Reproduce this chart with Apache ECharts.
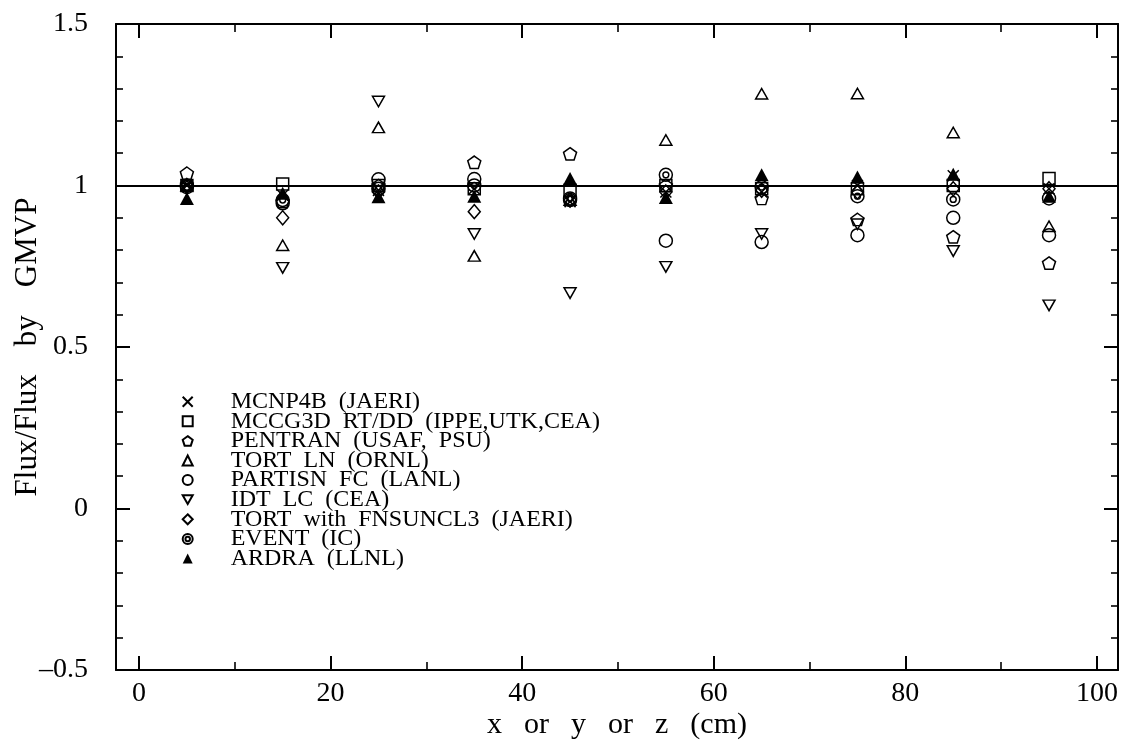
<!DOCTYPE html>
<html><head><meta charset="utf-8">
<script src="https://cdn.jsdelivr.net/npm/echarts@6/dist/echarts.min.js"></script>
<style>html,body{margin:0;padding:0;background:#fff}#c{width:1122px;height:742px}</style>
</head><body><div id="c"></div>
<script>
// ---------- data ----------
const positions = [5, 15, 25, 35, 45, 55, 65, 75, 85, 95];
const seriesNames = [
  'MCNP4B (JAERI)',
  'MCCG3D RT/DD (IPPE,UTK,CEA)',
  'PENTRAN (USAF, PSU)',
  'TORT LN (ORNL)',
  'PARTISN FC (LANL)',
  'IDT LC (CEA)',
  'TORT with FNSUNCL3 (JAERI)',
  'EVENT (IC)',
  'ARDRA (LLNL)'
];
const mcnp4b   = [1.000, 0.970, 0.985, 0.990, 0.950, 0.980, 0.980, 1.000, 1.030, 0.990];
const mccg3d   = [1.000, 1.005, 1.000, 0.990, 0.985, 1.000, 0.990, 0.990, 1.000, 1.022];
const pentran  = [1.038, 0.950, 1.000, 1.072, 1.098, 1.000, 0.960, 0.895, 0.841, 0.760];
const tortLN   = [1.000, 0.815, 1.180, 0.782, 0.955, 1.141, 1.284, 1.285, 1.164, 0.874];
const partisn  = [1.000, 0.945, 1.019, 1.020, 0.955, 0.829, 0.825, 0.846, 0.900, 0.846];
const idtLC    = [0.990, 0.745, 1.260, 0.850, 0.667, 0.748, 0.850, 0.880, 0.797, 0.629];
const tortFNS  = [1.000, 0.900, 0.980, 0.919, 0.955, 0.980, 0.985, 0.980, 0.990, 0.990];
const eventIC  = [0.995, 0.955, 0.990, 1.000, 0.960, 1.033, 0.995, 0.967, 0.957, 0.960];
const ardra    = [0.960, 0.976, 0.965, 0.967, 1.022, 0.963, 1.033, 1.026, 1.035, 0.967];
const seriesValues = [mcnp4b, mccg3d, pentran, tortLN, partisn, idtLC, tortFNS, eventIC, ardra];
const xMajorTicks = [0, 20, 40, 60, 80, 100];
const xMinorTicks = [10, 30, 50, 70, 90];
const referenceValue = 1;
const xTitle = 'x or y or z (cm)';
const yTitle = 'Flux/Flux by GMVP';

// ---------- styles ----------
const FONT = 'Liberation Serif';
const BLACK = '#000';
const HOLLOW = 'rgba(255,255,255,0)';
const markerStyles = [
  { symbol: 'path://M0,0L1,1M1,0L0,1', size: [11, 11], fill: HOLLOW },
  { symbol: 'rect', size: [12, 12], fill: HOLLOW },
  { symbol: 'path://M1,0L1.951,0.691L1.588,1.809L0.412,1.809L0.049,0.691Z', size: [13, 12.4], fill: HOLLOW },
  { symbol: 'triangle', size: [12, 10.5], fill: HOLLOW },
  { symbol: 'circle', size: [13, 13], fill: HOLLOW },
  { symbol: 'path://M0,0L2,0L1,1.732Z', size: [12, 10.5], fill: HOLLOW },
  { symbol: 'diamond', size: [12, 14], fill: HOLLOW },
  { symbol: 'path://M0,10A10,10 0 1,0 20,10A10,10 0 1,0 0,10ZM5.5,10A4.5,4.5 0 1,0 14.5,10A4.5,4.5 0 1,0 5.5,10Z', size: [13, 13], fill: HOLLOW },
  { symbol: 'triangle', size: [14, 13], fill: BLACK }
];
const legendFontSize = 24;
const legendPitch = 19.6;

// spaced-out title text built from rich tokens (word + fixed-width gap)
function spacedRich(text, gapW, fontSize) {
  return {
    str: text.split(' ').map(w => '{t|' + w + '}').join('{g| }'),
    rich: {
      t: { fontFamily: FONT, fontSize, color: BLACK },
      g: { fontFamily: FONT, fontSize, color: BLACK, width: gapW }
    }
  };
}
const xName = spacedRich(xTitle, 22, 30);
const yName = spacedRich(yTitle, 28, 31);

const chart = echarts.init(document.getElementById('c'), null, { renderer: 'canvas' });
const X_MIN = -2.4, X_MAX = 102.2;
const tickFont = { fontFamily: FONT, fontSize: 28, color: BLACK };

function xAxisDef(position, major) {
  const labelled = major && position === 'bottom';
  return {
    type: 'value', position, min: X_MIN, max: X_MAX,
    axisLine: { show: major, onZero: false, lineStyle: { color: BLACK, width: 2 } },
    axisTick: { show: true, inside: true, length: major ? 14 : 8,
      lineStyle: { color: BLACK, width: major ? 2 : 1.6 },
      customValues: major ? xMajorTicks : xMinorTicks },
    axisLabel: labelled
      ? Object.assign({ show: true, customValues: xMajorTicks, margin: 10 }, tickFont)
      : { show: false },
    splitLine: { show: false },
    name: labelled ? xName.str : '',
    nameLocation: 'middle', nameGap: 40, nameMoveOverlap: false,
    nameTextStyle: { fontFamily: FONT, fontSize: 30, color: BLACK, rich: xName.rich }
  };
}
function yAxisDef(position) {
  const left = position === 'left';
  return {
    type: 'value', position, min: -0.5, max: 1.5, interval: 0.5,
    axisLine: { show: true, onZero: false, lineStyle: { color: BLACK, width: 2 } },
    axisTick: { show: true, inside: true, length: 14, lineStyle: { color: BLACK, width: 2 } },
    minorTick: { show: true, splitNumber: 5, length: 7, lineStyle: { color: BLACK, width: 1.6 } },
    axisLabel: left ? Object.assign({
      show: true, margin: 28,
      formatter: v => (v < 0 ? '\u2013' + Math.abs(v) : String(v))
    }, tickFont) : { show: false },
    splitLine: { show: false }, minorSplitLine: { show: false },
    name: left ? yName.str : '',
    nameLocation: 'middle', nameGap: 73, nameMoveOverlap: false,
    nameTextStyle: { fontFamily: FONT, fontSize: 31, color: BLACK, rich: yName.rich }
  };
}

const series = seriesNames.map((name, k) => {
  const m = markerStyles[k];
  const s = {
    name, type: 'scatter', xAxisIndex: 0, yAxisIndex: 0,
    symbol: m.symbol, symbolSize: m.size,
    itemStyle: { color: m.fill, borderColor: BLACK, borderWidth: m.fill === BLACK ? 0 : 1.5, opacity: 1 },
    emphasis: { disabled: true },
    silent: true, z: 3 + k,
    data: positions.map((x, i) => [x, seriesValues[k][i]])
  };
  if (k === 0) {
    s.markLine = {
      silent: true, symbol: ['none', 'none'], label: { show: false },
      lineStyle: { color: BLACK, width: 2, type: 'solid' },
      data: [{ yAxis: referenceValue }], z: 2
    };
  }
  return s;
});

chart.setOption({
  animation: false,
  backgroundColor: '#fff',
  grid: { left: 116, right: 4, top: 24, bottom: 72, containLabel: false, outerBoundsMode: 'none' },
  xAxis: [xAxisDef('bottom', true), xAxisDef('bottom', false), xAxisDef('top', true), xAxisDef('top', false)],
  yAxis: [yAxisDef('left'), yAxisDef('right')],
  legend: {
    show: true, orient: 'vertical', left: 181.7, top: 389.7, padding: 0,
    itemGap: legendPitch - legendFontSize,
    itemWidth: 10, itemHeight: 10, selectedMode: false,
    data: seriesNames,
    formatter: name => name.split(' ').join('  '),
    textStyle: { fontFamily: FONT, fontSize: legendFontSize, color: BLACK,
      padding: [0, 0, 0, 33] }
  },
  series
});
</script>
</body></html>
